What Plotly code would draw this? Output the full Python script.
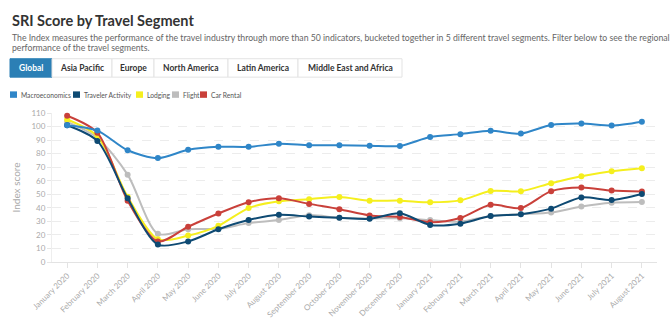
import plotly.graph_objects as go

months = ["January 2020", "February 2020", "March 2020", "April 2020", "May 2020", "June 2020",
          "July 2020", "August 2020", "September 2020", "October 2020", "November 2020",
          "December 2020", "January 2021", "February 2021", "March 2021", "April 2021",
          "May 2021", "June 2021", "July 2021", "August 2021"]

macroeconomics = [101, 97, 82.5, 76.7, 82.8, 85, 85, 87.3, 86.2, 86.2, 85.9, 85.7, 92.3, 94.4, 96.9, 94.8, 101.2, 102.3, 100.7, 103.6]
traveler_activity = [101, 89.4, 47, 12.9, 15.2, 24.2, 31, 34.8, 33.5, 32.6, 31.9, 36, 27.4, 28.3, 33.9, 35.3, 39.4, 47.7, 45.7, 50.2]
lodging = [105.2, 92.8, 48.2, 16.8, 19.5, 26.7, 39.8, 44.8, 46.4, 48.0, 45.3, 45.3, 44.1, 45.5, 52.4, 52.3, 58.2, 63.3, 67, 69.2]
flight = [103.4, 91.6, 64.5, 20.8, 24.2, 24.5, 28.7, 31, 34.6, 32.6, 32.1, 32.3, 31, 29.8, 34.0, 35.3, 36.5, 40.9, 43.7, 44.3]
car_rental = [108, 95.5, 45.3, 15.2, 26, 35.8, 44.1, 47.1, 42.9, 39.0, 34.4, 33.2, 29.4, 32.5, 42.3, 39.8, 52.3, 55, 52.7, 52]

series_names = ["Macroeconomics", "Traveler Activity", "Lodging", "Flight", "Car Rental"]
series_values = [macroeconomics, traveler_activity, lodging, flight, car_rental]
series_colors = ["#2f86c8", "#0e4a73", "#f5ef1e", "#bdbdbd", "#c9403a"]
draw_order = [3, 2, 4, 1, 0]

regions = ["Global", "Asia Pacific", "Europe", "North America", "Latin America", "Middle East and Africa"]
y_ticks = [0, 10, 20, 30, 40, 50, 60, 70, 80, 90, 100, 110]

FONT = "Lato"
W, H = 670, 331
L, R, T, B = 52, 657, 113, 275

def px(x):
    return (x - L) / (R - L)

def py(y):
    return (B - y) / (B - T)

fig = go.Figure()
for i in draw_order:
    fig.add_trace(go.Scatter(
        x=months, y=series_values[i], name=series_names[i], mode="lines+markers",
        line=dict(color=series_colors[i], width=2, shape="spline", smoothing=0.8),
        marker=dict(color=series_colors[i], size=6),
        showlegend=False, cliponaxis=False, hoverinfo="x+y+name"))

shapes = []
annotations = []

# Title and description
annotations.append(dict(text="<b>SRI Score by Travel Segment</b>", x=px(10), y=py(12), xref="paper", yref="paper",
                        xanchor="left", yanchor="middle", showarrow=False,
                        font=dict(family=FONT, size=14.5, color="#333333")))
annotations.append(dict(text="The Index measures the performance of the travel industry through more than 50 indicators, bucketed together in 5 different travel segments. Filter below to see the regional",
                        x=px(10), y=py(31), xref="paper", yref="paper", xanchor="left", yanchor="middle",
                        showarrow=False, font=dict(family=FONT, size=8.7, color="#666666")))
annotations.append(dict(text="performance of the travel segments.",
                        x=px(10), y=py(42), xref="paper", yref="paper", xanchor="left", yanchor="middle",
                        showarrow=False, font=dict(family=FONT, size=8.7, color="#666666")))

# Region buttons
edges = [10, 52, 112, 154, 228, 298, 402]
for k, name in enumerate(regions):
    x0, x1 = edges[k], edges[k + 1]
    sel = k == 0
    shapes.append(dict(type="rect", xref="paper", yref="paper", x0=px(x0), x1=px(x1), y0=py(74), y1=py(54),
                       fillcolor="#2b7fb5" if sel else "#ffffff",
                       line=dict(color="#2b7fb5" if sel else "#e3e3e3", width=1), layer="above"))
    annotations.append(dict(text="<b>%s</b>" % name, x=px((x0 + x1) / 2), y=py(64), xref="paper", yref="paper",
                            xanchor="center", yanchor="middle", showarrow=False,
                            font=dict(family=FONT, size=8.5, color="#ffffff" if sel else "#333333")))

# Legend (manual)
legend_x = [10, 73, 136, 172, 200]
for k, name in enumerate(series_names):
    x0 = legend_x[k]
    shapes.append(dict(type="rect", xref="paper", yref="paper", x0=px(x0), x1=px(x0 + 7), y0=py(96.5), y1=py(89.5),
                       fillcolor=series_colors[k], line=dict(width=0)))
    annotations.append(dict(text=name, x=px(x0 + 8.5), y=py(93), xref="paper", yref="paper",
                            xanchor="left", yanchor="middle", showarrow=False,
                            font=dict(family=FONT, size=6.7, color="#555555")))

fig.update_layout(
    width=W, height=H,
    margin=dict(l=L, r=W - R, t=T, b=H - B),
    paper_bgcolor="white", plot_bgcolor="white",
    font=dict(family=FONT, color="#999999"),
    shapes=shapes, annotations=annotations, showlegend=False,
    xaxis=dict(type="category", range=[-0.5, len(months) - 0.5], tickangle=-45,
               tickfont=dict(size=8, color="#aaaaaa"), showgrid=False,
               showline=True, linecolor="#e3e3e3", ticks="outside", ticklen=5, tickcolor="#e3e3e3",
               fixedrange=True),
    yaxis=dict(range=[0, 110], tickvals=y_ticks, tickfont=dict(size=8, color="#aaaaaa"),
               showgrid=True, gridcolor="#ececec", griddash="dash", gridwidth=1,
               zeroline=False, showline=True, linecolor="#eeeeee",
               ticks="outside", ticklen=4, tickcolor="#e6e6e6",
               title=dict(text="Index score", font=dict(size=10, color="#aaaaaa"), standoff=8),
               fixedrange=True),
)

fig.write_html("out.html")
